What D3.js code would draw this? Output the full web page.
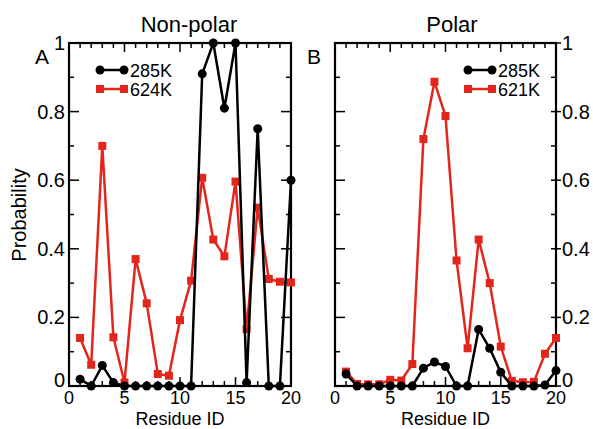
<!DOCTYPE html>
<html><head><meta charset="utf-8">
<script src="https://cdn.jsdelivr.net/npm/d3@7"></script>
<style>body{margin:0;background:#fff;}svg{display:block;}</style>
</head><body>
<script>
const residues = d3.range(1, 21);
const nonPolar285 = [0.02,0,0.06,0.01,0,0,0,0,0,0,0,0.91,1.0,0.81,1.0,0.01,0.75,0,0,0.6];
const nonPolar624 = [0.14,0.062,0.70,0.142,0.01,0.37,0.241,0.035,0.03,0.192,0.307,0.607,0.427,0.378,0.596,0.166,0.52,0.312,0.304,0.302];
const polar285 = [0.035,0,0,0,0,0,0,0.052,0.07,0.057,0,0,0.165,0.11,0.04,0,0,0,0.003,0.045];
const polar621 = [0.042,0.006,0.005,0.005,0.018,0.016,0.064,0.72,0.887,0.787,0.366,0.11,0.427,0.30,0.115,0.015,0.011,0.012,0.094,0.14];
const xTicks = [0,5,10,15,20];
const yTicks = [0,0.2,0.4,0.6,0.8,1];
const yTickLabels = ["0","0.2","0.4","0.6","0.8","1"];

const W=593,H=429;
const svg=d3.select("body").append("svg").attr("width",W).attr("height",H);
const font="'Liberation Sans', Arial, Helvetica, sans-serif";
const RED="#e3261b";
const y=d3.scaleLinear().domain([0,1]).range([386,43]);

const panels=[
 {x0:69,x1:291,title:"Non-polar",tx:189,letter:"A",lx:35,s1:nonPolar285,s2:nonPolar624,l1:"285K",l2:"624K",legX:100,leftLabels:true,rightLabels:false},
 {x0:335,x1:556,title:"Polar",tx:452,letter:"B",lx:307,s1:polar285,s2:polar621,l1:"285K",l2:"621K",legX:468,leftLabels:false,rightLabels:true}
];

panels.forEach(p=>{
  const x=d3.scaleLinear().domain([0,20]).range([p.x0,p.x1]);
  const g=svg.append("g");
  const minorX=d3.range(0,21);
  const minorY=d3.range(0,11).map(d=>d/10);
  minorX.forEach(v=>{
    const major=v%5===0, L=major?9:5;
    g.append("line").attr("x1",x(v)).attr("x2",x(v)).attr("y1",y(0)).attr("y2",y(0)-L).attr("stroke","#000").attr("stroke-width",1.5);
    g.append("line").attr("x1",x(v)).attr("x2",x(v)).attr("y1",y(1)).attr("y2",y(1)+L).attr("stroke","#000").attr("stroke-width",1.5);
  });
  minorY.forEach(v=>{
    const major=Math.round(v*10)%2===0, L=major?10:5;
    g.append("line").attr("x1",p.x0).attr("x2",p.x0+L).attr("y1",y(v)).attr("y2",y(v)).attr("stroke","#000").attr("stroke-width",1.5);
    if(p.rightLabels && major){
      g.append("line").attr("x1",p.x1-5).attr("x2",p.x1+5).attr("y1",y(v)).attr("y2",y(v)).attr("stroke","#000").attr("stroke-width",1.5);
    } else {
      g.append("line").attr("x1",p.x1).attr("x2",p.x1-L).attr("y1",y(v)).attr("y2",y(v)).attr("stroke","#000").attr("stroke-width",1.5);
    }
  });
  g.append("rect").attr("x",p.x0).attr("y",y(1)).attr("width",p.x1-p.x0).attr("height",y(0)-y(1))
    .attr("fill","none").attr("stroke","#000").attr("stroke-width",2.2);
  xTicks.forEach(v=>{
    g.append("text").attr("x",x(v)).attr("y",404).attr("text-anchor","middle")
     .attr("font-family",font).attr("font-size",18).text(v);
  });
  yTicks.forEach((v,i)=>{
    if(p.leftLabels){
      g.append("text").attr("x",p.x0-4).attr("y",y(v)+(v===0?1:7)).attr("text-anchor","end")
       .attr("font-family",font).attr("font-size",20).text(yTickLabels[i]);
    }
    if(p.rightLabels){
      g.append("text").attr("x",p.x1+6).attr("y",y(v)+(v===0?1:7)).attr("text-anchor","start")
       .attr("font-family",font).attr("font-size",20).text(yTickLabels[i]);
    }
  });
  g.append("text").attr("x",p.tx).attr("y",32).attr("text-anchor","middle").attr("font-family",font).attr("font-size",22).text(p.title);
  g.append("text").attr("x",p.lx).attr("y",64).attr("font-family",font).attr("font-size",21).text(p.letter);
  g.append("text").attr("x",(p.x0+p.x1)/2).attr("y",425).attr("text-anchor","middle").attr("font-family",font).attr("font-size",18).text("Residue ID");

  const line=d3.line().x((d,i)=>x(residues[i])).y(d=>y(d));
  g.append("path").attr("d",line(p.s2)).attr("fill","none").attr("stroke",RED).attr("stroke-width",2.5);
  g.selectAll(null).data(p.s2).enter().append("rect")
    .attr("x",(d,i)=>x(residues[i])-4).attr("y",d=>y(d)-4).attr("width",8).attr("height",8).attr("fill",RED);
  g.append("path").attr("d",line(p.s1)).attr("fill","none").attr("stroke","#000").attr("stroke-width",2.5);
  g.selectAll(null).data(p.s1).enter().append("circle")
    .attr("cx",(d,i)=>x(residues[i])).attr("cy",d=>y(d)).attr("r",4.5).attr("fill","#000");

  const lg=svg.append("g");
  const ly1=70, ly2=89, lx=p.legX, lw=24;
  lg.append("line").attr("x1",lx).attr("x2",lx+lw).attr("y1",ly1).attr("y2",ly1).attr("stroke","#000").attr("stroke-width",2.5);
  [lx,lx+lw].forEach(cx=>lg.append("circle").attr("cx",cx).attr("cy",ly1).attr("r",4.5).attr("fill","#000"));
  lg.append("text").attr("x",lx+30).attr("y",ly1+7).attr("font-family",font).attr("font-size",18).text(p.l1);
  lg.append("line").attr("x1",lx).attr("x2",lx+lw).attr("y1",ly2).attr("y2",ly2).attr("stroke",RED).attr("stroke-width",2.5);
  [lx,lx+lw].forEach(cx=>lg.append("rect").attr("x",cx-4).attr("y",ly2-4).attr("width",8).attr("height",8).attr("fill",RED));
  lg.append("text").attr("x",lx+30).attr("y",ly2+7).attr("font-family",font).attr("font-size",18).text(p.l2);
});

svg.append("text").attr("transform","translate(26,215) rotate(-90)").attr("text-anchor","middle")
  .attr("font-family",font).attr("font-size",20).text("Probability");
</script>
</body></html>
